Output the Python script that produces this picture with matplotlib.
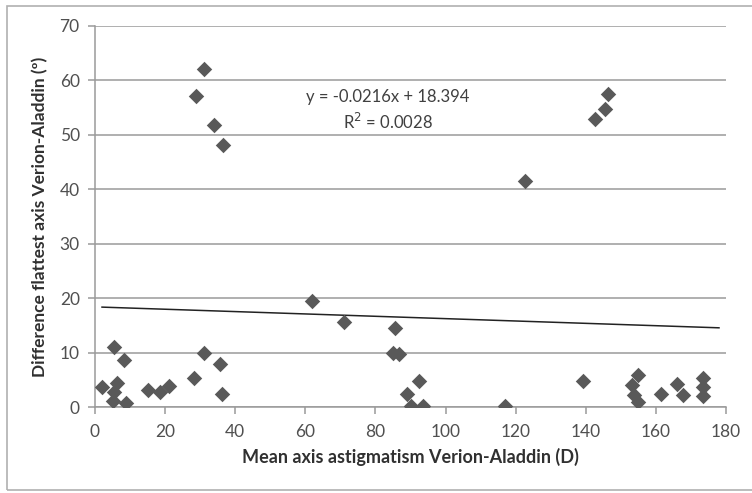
import numpy as np
import matplotlib
matplotlib.use("Agg")
import matplotlib.pyplot as plt
from matplotlib.patches import Rectangle

# data
mean_axis = [2.0, 5.5, 8.4, 6.4, 5.5, 5.0, 8.8, 15.2, 18.5, 21.1, 28.3, 31.1, 35.7, 36.3,
             62.0, 71.1, 31.1, 28.8, 34.0, 36.4, 146.2, 145.6, 142.6, 122.7,
             85.6, 85.1, 86.8, 92.5, 88.9, 90.1, 93.6, 116.9, 139.3,
             155.0, 153.2, 153.8, 154.8, 161.6, 166.1, 167.8, 173.5, 173.5, 173.5]
diff_flat = [3.6, 11.0, 8.6, 4.5, 2.8, 1.1, 0.7, 3.1, 2.8, 3.9, 5.4, 10.0, 7.9, 2.4,
             19.5, 15.7, 62.1, 57.2, 51.8, 48.1, 57.5, 54.7, 52.9, 41.6,
             14.6, 10.0, 9.7, 4.8, 2.4, 0.1, 0.1, 0.1, 4.8,
             5.9, 4.0, 2.2, 1.0, 2.4, 4.3, 2.2, 5.4, 3.7, 2.1]

slope = -0.0216
intercept = 18.394
r2 = 0.0028
trend_x = [2, 178]

x_ticks = list(range(0, 181, 20))
y_ticks = list(range(0, 71, 10))

plt.rcParams['font.family'] = ['Lato', 'DejaVu Sans']
txt_col = '#404040'
axis_col = '#9a9a9a'

fig = plt.figure(figsize=(7.52, 4.93), dpi=100)
ax = fig.add_axes([95 / 752, 1 - 407 / 493, (726 - 95) / 752, (407 - 26) / 493])

# outer chart border (right side runs off the image)
fig.patches.append(Rectangle((7 / 752, 3 / 493), 1.2, 1 - 9 / 493, transform=fig.transFigure,
                             fill=False, edgecolor='#b0b0b0', linewidth=1.2))

ax.scatter(mean_axis, diff_flat, marker='D', s=62, color='#595959', zorder=3, linewidths=0)

tx = np.array(trend_x, dtype=float)
ax.plot(tx, slope * tx + intercept, color='#222222', linewidth=1.1, zorder=2)

ax.text(83.6, 57, f"y = {slope}x + {intercept}", ha='center', va='center', fontsize=12, color=txt_col)
ax.text(83.6, 52.4, f"R$^2$ = {r2}", ha='center', va='center', fontsize=12, color=txt_col)

ax.set_xlim(0, 180)
ax.set_ylim(0, 70)
ax.set_xticks(x_ticks)
ax.set_yticks(y_ticks)
ax.yaxis.grid(True, color=axis_col, linewidth=1.1)
ax.set_axisbelow(True)
for s in ['top', 'right']:
    ax.spines[s].set_visible(False)
for s in ['left', 'bottom']:
    ax.spines[s].set_color(axis_col)
    ax.spines[s].set_linewidth(1.1)
ax.tick_params(axis='both', colors=axis_col, labelcolor='#505050', labelsize=12.5, length=5, width=1.1)
ax.tick_params(axis='x', pad=7)
ax.tick_params(axis='y', pad=6)

ax.set_xlabel("Mean axis astigmatism Verion-Aladdin (D)", fontsize=13, fontweight='bold',
              color='#303030', labelpad=6)
ax.set_ylabel("Difference flattest axis Verion-Aladdin (º)", fontsize=12.5, fontweight='bold',
              color='#303030', labelpad=8)

fig.savefig("out.png", dpi=100)
